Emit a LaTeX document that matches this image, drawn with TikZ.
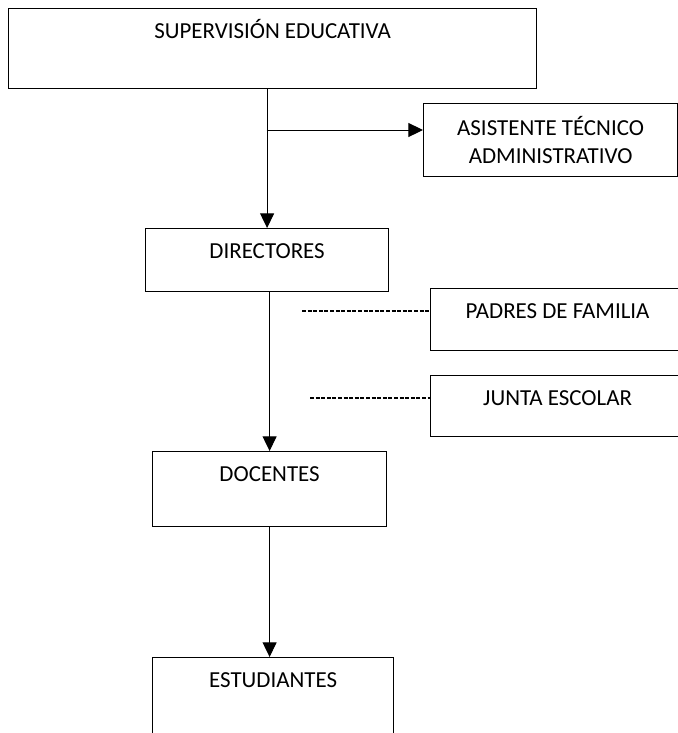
\documentclass[tikz,border=0pt]{standalone}
\usepackage{fontspec}
\setmainfont{Carlito}
\usetikzlibrary{arrows.meta, positioning}

\begin{document}
\begin{tikzpicture}[x=0.75pt, y=-0.75pt, >={Triangle[length=11pt,width=10.5pt]}]
\useasboundingbox (0,0) rectangle (678,733);
\clip (0,0) rectangle (678,733);
\begin{scope}[every node/.style={draw, line width=0.9pt, inner sep=0pt, anchor=north west, font=\fontsize{17.2}{21}\selectfont, text height=22.5pt}]
    \node[minimum width=396pt, text depth=37.5pt] (1) at (8,8) {SUPERVISIÓN EDUCATIVA};
    \node[minimum width=190.5pt, minimum height=54.75pt, text height=, align=center] (2) at (423,103) {ASISTENTE TÉCNICO\\ADMINISTRATIVO};
    \node[minimum width=182.25pt, text depth=24.75pt] (3) at (145,228) {DIRECTORES};
    \node[minimum width=190.5pt, text depth=24pt] (4) at (430,288) {PADRES DE FAMILIA};
    \node[minimum width=190.5pt, text depth=23.25pt] (5) at (430,375) {JUNTA ESCOLAR};
    \node[minimum width=175.5pt, text depth=33.75pt] (6) at (152,451) {DOCENTES};
    \node[minimum width=180.75pt, text depth=45pt] (7) at (152,657) {ESTUDIANTES};
\end{scope}

\coordinate (b) at (266.5,130);
\coordinate (p) at (302,311);
\coordinate (j) at (310,398);

\draw[->, line width=0.75pt] (3.north |- 1.south) -- (3.north);
\draw[->, line width=0.75pt] (b) -- (b -| 2.west);
\draw[->, line width=0.75pt] (6.north |- 3.south) -- (6.north);
\draw[->, line width=0.75pt] (6.south) -- (6.south |- 7.north);
\draw[dash pattern=on 3pt off 1.2pt, line width=1.3pt] (p) -- (p -| 4.west);
\draw[dash pattern=on 3pt off 1.2pt, line width=1.3pt] (j) -- (j -| 5.west);
\end{tikzpicture}
\end{document}
